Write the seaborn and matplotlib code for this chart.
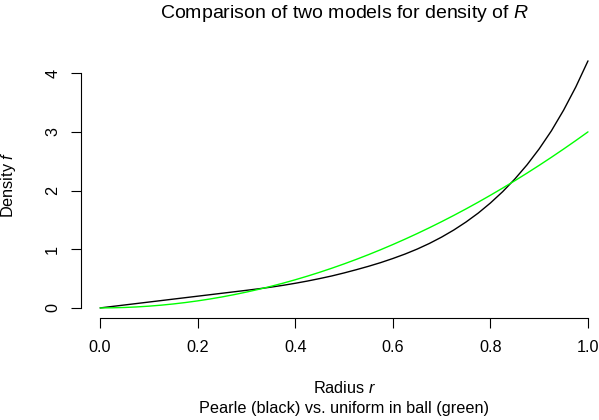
import numpy as np
import pandas as pd
import seaborn as sns
import matplotlib

matplotlib.use("Agg")
import matplotlib.pyplot as plt

# radius grid and the two densities
radius = [0.000, 0.025, 0.050, 0.075, 0.100, 0.125, 0.150, 0.175, 0.200, 0.225,
          0.250, 0.275, 0.300, 0.325, 0.350, 0.375, 0.400, 0.425, 0.450, 0.475,
          0.500, 0.525, 0.550, 0.575, 0.600, 0.625, 0.650, 0.675, 0.700, 0.725,
          0.750, 0.775, 0.800, 0.825, 0.850, 0.875, 0.900, 0.925, 0.950, 0.975,
          1.000]
pearle = [0.000, 0.025, 0.050, 0.075, 0.100, 0.125, 0.150, 0.175, 0.200, 0.225,
          0.250, 0.275, 0.300, 0.326, 0.354, 0.385, 0.420, 0.458, 0.500, 0.545,
          0.596, 0.651, 0.709, 0.772, 0.842, 0.918, 1.003, 1.099, 1.207, 1.328,
          1.464, 1.616, 1.788, 1.980, 2.196, 2.438, 2.711, 3.018, 3.370, 3.765,
          4.210]
uniform_ball = [0.0000, 0.0019, 0.0075, 0.0169, 0.0300, 0.0469, 0.0675, 0.0919, 0.1200,
                0.1519, 0.1875, 0.2269, 0.2700, 0.3169, 0.3675, 0.4219, 0.4800, 0.5419,
                0.6075, 0.6769, 0.7500, 0.8269, 0.9075, 0.9919, 1.0800, 1.1719, 1.2675,
                1.3669, 1.4700, 1.5769, 1.6875, 1.8019, 1.9200, 2.0419, 2.1675, 2.2969,
                2.4300, 2.5669, 2.7075, 2.8519, 3.0000]

x_ticks = [0.0, 0.2, 0.4, 0.6, 0.8, 1.0]
y_ticks = [0, 1, 2, 3, 4]

TITLE = "Comparison of two models for density of $R$"
XLABEL = "Radius $r$"
SUBTITLE = "Pearle (black) vs. uniform in ball (green)"
YLABEL = "Density $f$"

sns.set_theme(style="ticks")
plt.rcParams["font.family"] = ["Liberation Sans", "DejaVu Sans"]
plt.rcParams["mathtext.fontset"] = "custom"
plt.rcParams["mathtext.rm"] = "Liberation Sans"
plt.rcParams["mathtext.it"] = "Liberation Sans:italic"

W, H = 599, 420
fig = plt.figure(figsize=(W / 100, H / 100), dpi=100)
# plot region in pixels (R style, right edge runs past the crop)
left, right, top, bottom = 80.6, 607.5, 51.0, 317.8
ax = fig.add_axes([left / W, 1 - bottom / H, (right - left) / W, (bottom - top) / H])

df = pd.DataFrame({"r": radius, "pearle": pearle, "uniform": uniform_ball})
sns.lineplot(data=df, x="r", y="pearle", color="black", linewidth=1.0, ax=ax)
sns.lineplot(data=df, x="r", y="uniform", color="#00FF00", linewidth=1.0, ax=ax)

# R's 4% axis padding
xr = max(radius) - min(radius)
ax.set_xlim(min(radius) - 0.04 * xr, max(radius) + 0.04 * xr)
ymax = max(max(pearle), max(uniform_ball))
ymin = min(min(pearle), min(uniform_ball))
yr = ymax - ymin
ax.set_ylim(ymin - 0.04 * yr, ymax + 0.04 * yr)

ax.set_xticks(x_ticks, [f"{t:.1f}" for t in x_ticks])
ax.set_yticks(y_ticks, [str(t) for t in y_ticks])
ax.set_xlabel("")
ax.set_ylabel("")

for side in ["top", "right"]:
    ax.spines[side].set_visible(False)
ax.spines["bottom"].set_bounds(x_ticks[0], x_ticks[-1])
ax.spines["left"].set_bounds(y_ticks[0], y_ticks[-1])
for side in ["bottom", "left"]:
    ax.spines[side].set_color("black")
    ax.spines[side].set_linewidth(0.8)

ax.tick_params(axis="both", direction="out", length=7.2, width=0.8, color="black",
               labelsize=11.7, labelcolor="black")
ax.tick_params(axis="x", pad=8.5)
ax.tick_params(axis="y", pad=7.5, labelrotation=90)
for lab in ax.get_yticklabels():
    lab.set_va("center")

cx = ((left + right) / 2) / W
cy = 1 - ((top + bottom) / 2) / H
fig.text(cx, 1 - 18 / H, TITLE, ha="center", va="baseline", fontsize=14, color="black")
fig.text(cx, 1 - 388 / H, XLABEL, ha="center", va="center", fontsize=11.7, color="black")
fig.text(cx, 1 - 408 / H, SUBTITLE, ha="center", va="center", fontsize=11.7, color="black")
fig.text(8 / W, cy, YLABEL, ha="center", va="center", rotation=90, fontsize=11.7,
         color="black")

fig.savefig("out.png", dpi=100)
